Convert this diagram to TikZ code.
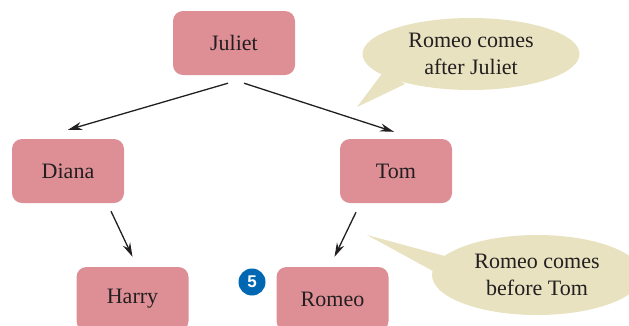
\documentclass[tikz,border=0pt]{standalone}
\usepackage{fontspec}
\setmainfont{Liberation Serif}
\definecolor{nodepink}{RGB}{222,143,150}
\definecolor{bubble}{RGB}{232,226,192}
\definecolor{badgeblue}{RGB}{0,104,178}
\definecolor{arrowgray}{RGB}{35,31,32}
\usetikzlibrary{arrows.meta,positioning,shapes.geometric,calc}

\begin{document}
\begin{tikzpicture}[x=1pt,y=-1pt,
  person/.style={fill=nodepink,rounded corners=10pt,minimum width=112pt,minimum height=64pt,
    inner sep=0pt,font=\fontsize{22}{27}\selectfont,text=arrowgray},
  callout/.style={ellipse,fill=bubble,inner sep=0pt,align=center,
    font=\fontsize{22}{27}\selectfont,text=arrowgray},
  arr/.style={-{Stealth[length=14pt,width=8pt]},arrowgray,line width=1.3pt}]
  \useasboundingbox (0,0) rectangle (629,325);
  % Tree
  \node[person,minimum width=122pt] (juliet) at (234,43) {Juliet};
  \node[person] (diana) at (68,171) {Diana};
  \node[person] (tom) at (396,171) {Tom};
  \node[person] (harry) at (132.5,299) {Harry};
  \node[person] (romeo) at (332.5,299) {Romeo};
  % Links
  \draw[arr] ($(juliet.south)+(-6,8)$) -- ($(diana.north)+(0,-9)$);
  \draw[arr] ($(juliet.south)+(10,8)$) -- ($(tom.north)+(-2,-7)$);
  \draw[arr] ($(diana.south)+(43,8)$) -- ($(harry.north)+(0,-10)$);
  \draw[arr] ($(tom.south)+(-40,9)$) -- ($(romeo.north)+(2,-10)$);
  % Step badge
  \node[circle,fill=badgeblue,minimum size=27pt,inner sep=0pt,text=white,
    font=\fontspec{Liberation Sans}\bfseries\fontsize{17}{17}\selectfont] (badge) at (252,282) {5};
  % Callouts
  \coordinate (tip1) at (357,107);
  \coordinate (tip2) at (367,235);
  \fill[bubble] ($(juliet.east)+(88,29)$) -- (tip1) -- ($(juliet.east)+(110,41)$) -- cycle;
  \node[callout,minimum width=217pt,minimum height=72pt] (after) at (471,54) {Romeo comes\\after Juliet};
  \fill[bubble] (tip2) -- ($(tom.east)+(0,87)$) -- ($(tom.east)+(-12,104)$) -- cycle;
  \node[callout,minimum width=210pt,minimum height=80pt] (before) at (537,275) {Romeo comes\\before Tom};
\end{tikzpicture}
\end{document}
